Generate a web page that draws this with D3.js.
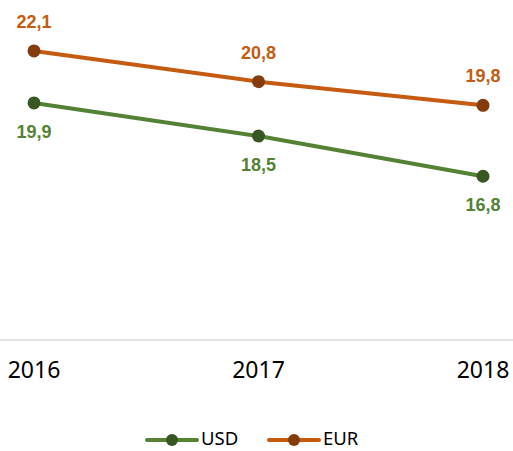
<!DOCTYPE html>
<html>
<head>
    <meta charset="utf-8" />
    <title>USD / EUR</title>
    <script src="https://d3js.org/d3.v7.min.js"></script>
    <style type="text/css">
        body { margin: 0; background: #fff; }
        .line { fill: none; stroke-width: 4; stroke-linecap: round; }
        .label { font-family: "Liberation Sans", Arial, sans-serif; font-weight: bold; font-size: 18px; }
        .tick-label { font-family: "Noto Sans", sans-serif; font-size: 23px; fill: #000; }
        .legend text { font-family: "Noto Sans", sans-serif; font-size: 18.5px; fill: #000; }
    </style>
</head>
<body>
    <svg></svg>
    <script>
        var years = ['2016', '2017', '2018'];
        var usd = [19.9, 18.5, 16.8];
        var eur = [22.1, 20.8, 19.8];
        var yDomain = [10, 24];

        var series = [
            { name: 'USD', values: usd, line: '#548235', dot: '#385723', labelPos: 'below' },
            { name: 'EUR', values: eur, line: '#c55a11', dot: '#843c0c', labelPos: 'above' }
        ];

        var width = 513, height = 451, axisY = 340;

        var svg = d3.select('svg')
            .attr('width', width)
            .attr('height', height);

        var xScale = d3.scalePoint()
            .domain(years)
            .range([34, 483]);

        var yScale = d3.scaleLinear()
            .domain(yDomain)
            .range([337, 6]);

        // x axis: light rule + year labels
        svg.append('line')
            .attr('x1', 0).attr('x2', width)
            .attr('y1', axisY).attr('y2', axisY)
            .attr('stroke', '#d9d9d9')
            .attr('stroke-width', 1.5);

        svg.selectAll('.tick-label')
            .data(years)
            .enter()
            .append('text')
            .attr('class', 'tick-label')
            .attr('x', function (d) { return xScale(d); })
            .attr('y', 378)
            .attr('text-anchor', 'middle')
            .text(function (d) { return d; });

        var line = d3.line()
            .x(function (d, i) { return xScale(years[i]); })
            .y(function (d) { return yScale(d); });

        series.forEach(function (s) {
            svg.append('path')
                .datum(s.values)
                .attr('class', 'line')
                .attr('stroke', s.line)
                .attr('d', line);

            svg.selectAll('.dot-' + s.name)
                .data(s.values)
                .enter()
                .append('circle')
                .attr('cx', function (d, i) { return xScale(years[i]); })
                .attr('cy', function (d) { return yScale(d); })
                .attr('r', 6.5)
                .attr('fill', s.dot);

            svg.selectAll('.label-' + s.name)
                .data(s.values)
                .enter()
                .append('text')
                .attr('class', 'label')
                .attr('fill', s.line)
                .attr('x', function (d, i) { return xScale(years[i]); })
                .attr('y', function (d) { return yScale(d) + (s.labelPos == 'above' ? -23 : 35); })
                .attr('text-anchor', 'middle')
                .text(function (d) { return d3.format('.1f')(d).replace('.', ','); });
        });

        // legend
        var legend = svg.append('g').attr('class', 'legend');
        var legendX = [147, 269];
        series.forEach(function (s, i) {
            var g = legend.append('g').attr('transform', 'translate(' + legendX[i] + ',440)');
            g.append('line')
                .attr('x1', 0).attr('x2', 50)
                .attr('stroke', s.line)
                .attr('stroke-width', 4)
                .attr('stroke-linecap', 'round');
            g.append('circle')
                .attr('cx', 25)
                .attr('r', 6)
                .attr('fill', s.dot);
            g.append('text')
                .attr('x', 54)
                .attr('y', 5)
                .text(s.name);
        });
    </script>
</body>
</html>
